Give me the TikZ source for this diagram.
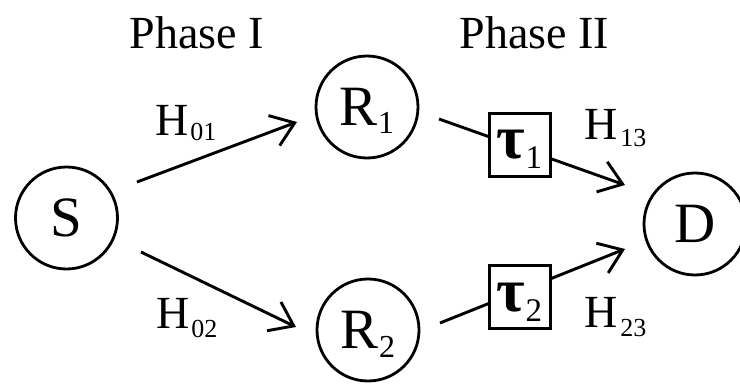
\documentclass[tikz,border=0pt]{standalone}
\usepackage{fontspec}
\setmainfont{Liberation Serif}
\usetikzlibrary{arrows.meta}
\newcommand{\fsz}[1]{\fontsize{#1}{#1}\selectfont}
\begin{document}
\begin{tikzpicture}[x=1pt,y=-1pt,
  nodecirc/.style={circle,draw,line width=2.8pt,minimum size=102pt,inner sep=0pt,font=\fsz{57},text height=37.5pt,text depth=0pt},
  delaybox/.style={rectangle,draw,fill=white,line width=3pt,minimum width=61pt,minimum height=63pt,inner sep=0pt,font=\fsz{62},text height=28pt,text depth=0pt},
  conn/.style={line width=2.9pt},
  arr/.style={conn,-{Straight Barb[length=22pt,width=32pt]}},
  lbl/.style={inner sep=0pt,anchor=base west,font=\fsz{46}},
  phase/.style={inner sep=0pt,anchor=base,font=\fsz{46}}
]
\useasboundingbox (0,0) rectangle (740,388);
% nodes
\node[nodecirc] (S) at (66.5,218) {S};
\node[nodecirc] (R1) at (367,107) {R\raisebox{-8pt}{\fsz{32}1}};
\node[nodecirc] (R2) at (368,330) {R\raisebox{-9pt}{\fsz{32}2}};
\node[nodecirc] (D) at (695,224) {D};
% connector end points
\coordinate (s1o) at (137,182);
\coordinate (r1i) at (297,122);
\coordinate (s2o) at (141,252);
\coordinate (r2i) at (296,327);
\coordinate (r1o) at (439,119);
\coordinate (d1i) at (625,185);
\coordinate (r2o) at (440,323);
\coordinate (d2i) at (625,249);
% connectors
\draw[arr] (s1o) -- (r1i);
\draw[arr] (s2o) -- (r2i);
\draw[arr] (r1o) -- (d1i);
\draw[arr] (r2o) -- (d2i);
% delay boxes
\node[delaybox] (t1) at (519.5,144.5) {\textbf{τ}\raisebox{-10pt}{\fsz{33}1}};
\node[delaybox] (t2) at (519.5,297) {\textbf{τ}\raisebox{-10pt}{\fsz{33}2}};
% labels
\node[phase] (ph1) at (196.5,48) {Phase I};
\node[phase] (ph2) at (534.5,48) {Phase II};
\node[lbl] (h01) at (155,135) {H\kern2pt\raisebox{-5pt}{\fsz{26}01}};
\node[lbl] (h02) at (156,328) {H\kern2pt\raisebox{-9pt}{\fsz{26}02}};
\node[lbl] (h13) at (584,139) {H\kern3pt\raisebox{-7pt}{\fsz{26}13}};
\node[lbl] (h23) at (584,327) {H\kern3pt\raisebox{-9pt}{\fsz{26}23}};
\end{tikzpicture}
\end{document}
